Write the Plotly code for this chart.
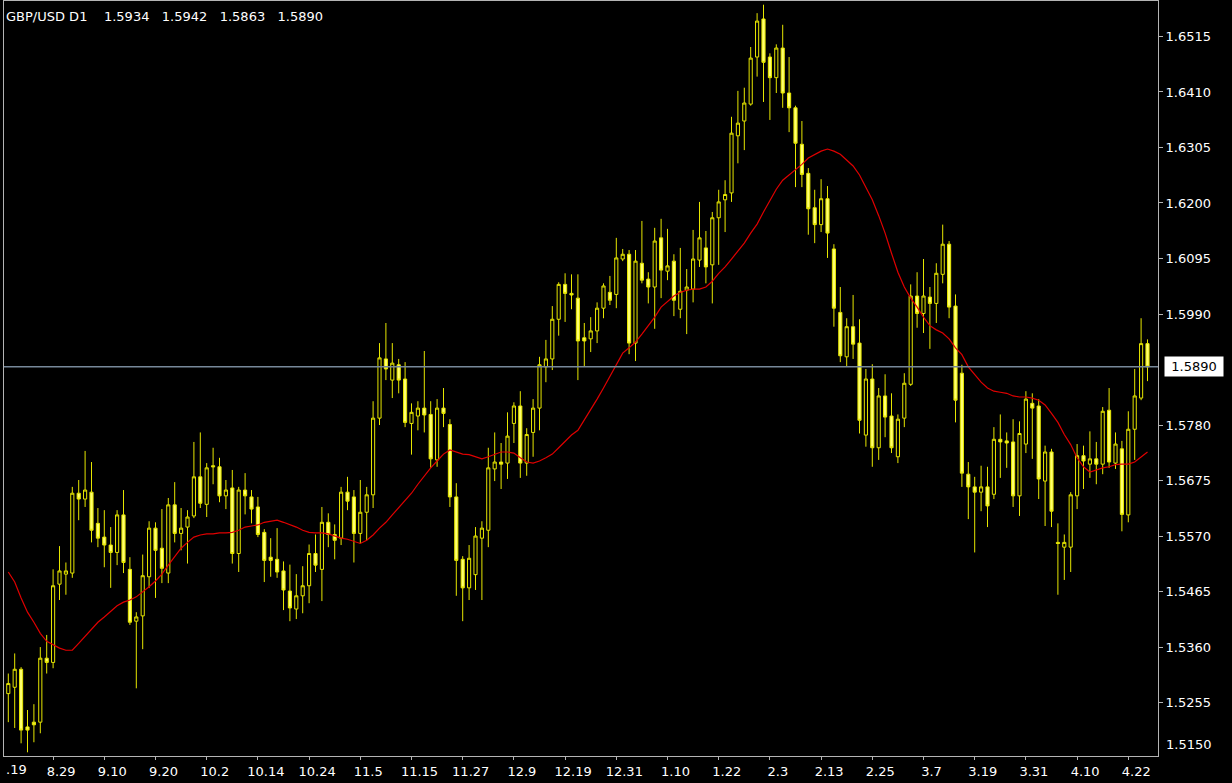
import plotly.graph_objects as go

NB = "\u00a0"
title_parts = ["GBP/USD D1", "1.5934", "1.5942", "1.5863", "1.5890"]

opens = [1.5272,1.5284,1.5318,1.5209,1.5218,1.5218,1.5339,1.5331,1.5479,1.5498,
1.5500,1.5651,1.5640,1.5653,1.5594,1.5568,1.5553,1.5539,1.5610,1.5507,
1.5409,1.5419,1.5493,1.5585,1.5547,1.5500,1.5629,1.5575,1.5587,1.5608,
1.5682,1.5630,1.5703,1.5701,1.5646,1.5661,1.5537,1.5657,1.5644,1.5625,
1.5577,1.5530,1.5526,1.5504,1.5466,1.5432,1.5457,1.5476,1.5537,1.5507,
1.5596,1.5573,1.5566,1.5653,1.5644,1.5575,1.5615,1.5648,1.5793,1.5905,
1.5865,1.5894,1.5867,1.5783,1.5797,1.5812,1.5800,1.5714,1.5812,1.5781,
1.5644,1.5526,1.5472,1.5497,1.5566,1.5581,1.5697,1.5710,1.5708,1.5783,
1.5816,1.5708,1.5766,1.5812,1.5890,1.5905,1.5980,1.6046,1.6029,1.6020,
1.5945,1.5943,1.5958,1.6001,1.6031,1.6027,1.6094,1.6103,1.5935,1.6086,
1.6056,1.6041,1.6134,1.6071,1.6090,1.5999,1.6035,1.6037,1.6092,1.6115,
1.6083,1.6172,1.6206,1.6219,1.6327,1.6355,1.6387,1.6476,1.6548,1.6476,
1.6437,1.6493,1.6408,1.6380,1.6311,1.6256,1.6191,1.6159,1.6208,1.6113,
1.5993,1.5909,1.5966,1.5935,1.5761,1.5867,1.5737,1.5835,1.5797,1.5720,
1.5793,1.5857,1.6024,1.5991,1.6022,1.6010,1.6065,1.6122,1.6005,1.5878,
1.5687,1.5663,1.5653,1.5663,1.5649,1.5753,1.5750,1.5748,1.5646,1.5744,
1.5821,1.5816,1.5674,1.5729,1.5558,1.5549,1.5549,1.5646,1.5722,1.5706,
1.5716,1.5706,1.5808,1.5708,1.5735,1.5610,1.5772,1.5831,1.5934]

highs = [1.5310,1.5348,1.5322,1.5241,1.5252,1.5360,1.5383,1.5507,1.5551,1.5520,
1.5663,1.5676,1.5731,1.5710,1.5623,1.5619,1.5587,1.5619,1.5657,1.5530,
1.5426,1.5535,1.5598,1.5596,1.5621,1.5642,1.5672,1.5623,1.5619,1.5748,
1.5766,1.5708,1.5737,1.5718,1.5676,1.5695,1.5663,1.5689,1.5657,1.5644,
1.5583,1.5566,1.5585,1.5522,1.5516,1.5498,1.5513,1.5554,1.5573,1.5625,
1.5613,1.5592,1.5663,1.5682,1.5657,1.5676,1.5663,1.5825,1.5935,1.5973,
1.5935,1.5905,1.5899,1.5821,1.5825,1.5920,1.5825,1.5829,1.5850,1.5791,
1.5670,1.5532,1.5553,1.5587,1.5598,1.5737,1.5766,1.5746,1.5804,1.5823,
1.5844,1.5774,1.5829,1.5909,1.5941,1.6005,1.6050,1.6067,1.6065,1.6065,
1.5973,1.5984,1.6012,1.6048,1.6062,1.6134,1.6113,1.6111,1.6111,1.6166,
1.6069,1.6153,1.6170,1.6151,1.6103,1.6115,1.6075,1.6149,1.6202,1.6147,
1.6183,1.6225,1.6243,1.6363,1.6412,1.6418,1.6495,1.6559,1.6575,1.6483,
1.6500,1.6537,1.6476,1.6384,1.6355,1.6266,1.6225,1.6245,1.6232,1.6122,
1.6041,1.5982,1.6026,1.5980,1.5886,1.5895,1.5850,1.5876,1.5840,1.5800,
1.5878,1.6046,1.6069,1.6094,1.6041,1.6086,1.6159,1.6128,1.6027,1.5894,
1.5710,1.5682,1.5703,1.5701,1.5776,1.5800,1.5766,1.5791,1.5787,1.5844,
1.5840,1.5829,1.5741,1.5735,1.5594,1.5573,1.5653,1.5744,1.5741,1.5768,
1.5748,1.5814,1.5850,1.5766,1.5750,1.5806,1.5886,1.5982,1.5942]

lows = [1.5218,1.5207,1.5178,1.5161,1.5180,1.5197,1.5310,1.5320,1.5449,1.5459,
1.5491,1.5600,1.5625,1.5558,1.5549,1.5511,1.5472,1.5515,1.5500,1.5402,
1.5282,1.5356,1.5472,1.5453,1.5481,1.5481,1.5558,1.5543,1.5518,1.5604,
1.5623,1.5606,1.5668,1.5634,1.5621,1.5518,1.5502,1.5611,1.5594,1.5568,
1.5483,1.5493,1.5491,1.5430,1.5409,1.5413,1.5424,1.5443,1.5502,1.5447,
1.5549,1.5526,1.5553,1.5619,1.5520,1.5556,1.5562,1.5623,1.5780,1.5865,
1.5831,1.5840,1.5776,1.5724,1.5770,1.5766,1.5699,1.5701,1.5776,1.5625,
1.5457,1.5409,1.5449,1.5468,1.5449,1.5549,1.5674,1.5659,1.5678,1.5746,
1.5680,1.5684,1.5720,1.5770,1.5861,1.5884,1.5949,1.5975,1.5999,1.5865,
1.5890,1.5918,1.5935,1.5982,1.6007,1.6001,1.6090,1.5914,1.5901,1.6048,
1.6010,1.5962,1.6020,1.6054,1.5986,1.5982,1.5952,1.6012,1.6079,1.6048,
1.6010,1.6083,1.6145,1.6202,1.6275,1.6300,1.6384,1.6439,1.6391,1.6357,
1.6408,1.6380,1.6334,1.6230,1.6230,1.6140,1.6124,1.6145,1.6096,1.5966,
1.5899,1.5890,1.5905,1.5764,1.5739,1.5701,1.5714,1.5757,1.5727,1.5708,
1.5776,1.5854,1.5964,1.5954,1.5924,1.5973,1.6048,1.5982,1.5785,1.5663,
1.5602,1.5539,1.5617,1.5587,1.5640,1.5680,1.5699,1.5625,1.5608,1.5727,
1.5716,1.5640,1.5589,1.5587,1.5459,1.5487,1.5502,1.5621,1.5659,1.5680,
1.5668,1.5687,1.5699,1.5697,1.5579,1.5596,1.5714,1.5827,1.5863]

closes = [1.5291,1.5318,1.5203,1.5203,1.5213,1.5339,1.5331,1.5476,1.5504,1.5504,
1.5651,1.5640,1.5657,1.5581,1.5566,1.5553,1.5539,1.5610,1.5520,1.5407,
1.5417,1.5495,1.5585,1.5543,1.5509,1.5629,1.5575,1.5585,1.5606,1.5682,
1.5632,1.5699,1.5701,1.5646,1.5657,1.5537,1.5657,1.5646,1.5621,1.5573,
1.5524,1.5524,1.5502,1.5468,1.5434,1.5457,1.5476,1.5537,1.5515,1.5596,
1.5573,1.5562,1.5653,1.5636,1.5575,1.5615,1.5648,1.5793,1.5907,1.5886,
1.5897,1.5865,1.5785,1.5804,1.5812,1.5799,1.5716,1.5812,1.5802,1.5644,
1.5524,1.5472,1.5528,1.5570,1.5585,1.5699,1.5710,1.5706,1.5759,1.5816,
1.5708,1.5762,1.5812,1.5894,1.5905,1.5980,1.6046,1.6029,1.6026,1.5939,
1.5939,1.5958,1.6001,1.6043,1.6016,1.6096,1.6103,1.5935,1.6090,1.6054,
1.6041,1.6128,1.6073,1.6081,1.6016,1.6033,1.6041,1.6094,1.6134,1.6079,
1.6172,1.6202,1.6216,1.6332,1.6351,1.6389,1.6474,1.6544,1.6466,1.6437,
1.6493,1.6408,1.6380,1.6313,1.6254,1.6189,1.6159,1.6208,1.6143,1.6001,
1.5911,1.5966,1.5933,1.5789,1.5867,1.5737,1.5835,1.5795,1.5737,1.5791,
1.5859,1.6024,1.5991,1.6024,1.6010,1.6067,1.6122,1.6003,1.5827,1.5689,
1.5663,1.5653,1.5663,1.5627,1.5753,1.5748,1.5746,1.5646,1.5764,1.5829,
1.5812,1.5678,1.5729,1.5617,1.5556,1.5558,1.5648,1.5722,1.5712,1.5716,
1.5706,1.5806,1.5710,1.5744,1.5611,1.5772,1.5835,1.5934,1.5890]

moving_avg = [1.5502,1.5483,1.5453,1.5426,1.5407,1.5386,1.5371,1.5364,1.5358,1.5354,
1.5354,1.5367,1.5381,1.5394,1.5407,1.5417,1.5428,1.5438,1.5445,1.5449,
1.5455,1.5464,1.5474,1.5485,1.5498,1.5515,1.5532,1.5547,1.5558,1.5568,
1.5572,1.5574,1.5574,1.5576,1.5576,1.5577,1.5581,1.5587,1.5589,1.5591,
1.5596,1.5598,1.5600,1.5596,1.5592,1.5587,1.5581,1.5577,1.5576,1.5576,
1.5574,1.5570,1.5566,1.5564,1.5560,1.5556,1.5562,1.5572,1.5585,1.5596,
1.5610,1.5623,1.5636,1.5651,1.5668,1.5684,1.5699,1.5712,1.5725,1.5733,
1.5729,1.5725,1.5724,1.5720,1.5716,1.5720,1.5725,1.5729,1.5729,1.5727,
1.5718,1.5710,1.5708,1.5712,1.5718,1.5725,1.5737,1.5750,1.5761,1.5770,
1.5789,1.5808,1.5829,1.5850,1.5873,1.5895,1.5916,1.5926,1.5937,1.5952,
1.5968,1.5984,1.6003,1.6014,1.6024,1.6031,1.6035,1.6037,1.6037,1.6041,
1.6052,1.6067,1.6079,1.6094,1.6109,1.6124,1.6143,1.6160,1.6183,1.6206,
1.6226,1.6243,1.6253,1.6264,1.6273,1.6285,1.6292,1.6298,1.6302,1.6298,
1.6292,1.6281,1.6270,1.6253,1.6230,1.6206,1.6176,1.6143,1.6105,1.6069,
1.6041,1.6020,1.6003,1.5984,1.5968,1.5960,1.5954,1.5943,1.5926,1.5913,
1.5890,1.5875,1.5861,1.5850,1.5844,1.5842,1.5840,1.5835,1.5833,1.5833,
1.5831,1.5827,1.5818,1.5802,1.5785,1.5762,1.5743,1.5718,1.5701,1.5691,
1.5695,1.5699,1.5701,1.5705,1.5706,1.5706,1.5710,1.5720,1.5729]

date_labels = ["8.19", "8.29", "9.10", "9.20", "10.2", "10.14", "10.24", "11.5",
               "11.15", "11.27", "12.9", "12.19", "12.31", "1.10", "1.22", "2.3",
               "2.13", "2.25", "3.7", "3.19", "3.31", "4.10", "4.22"]
date_label_bars = [-1 + 8 * k for k in range(len(date_labels))]

price_ticks = [1.5150, 1.5255, 1.5360, 1.5465, 1.5570, 1.5675, 1.5780,
               1.5990, 1.6095, 1.6200, 1.6305, 1.6410, 1.6515]
last_price = 1.5890

bars = list(range(len(closes)))

YEL = "#e6e600"
AXIS = "#b4b4b4"
FONT = "DejaVu Sans"
FS = 13

fig = go.Figure()
fig.add_trace(go.Candlestick(
    x=bars, open=opens, high=highs, low=lows, close=closes,
    increasing=dict(line=dict(color=YEL, width=1), fillcolor="black"),
    decreasing=dict(line=dict(color=YEL, width=1), fillcolor="#ffff70"),
    whiskerwidth=0, hoverinfo="skip", showlegend=False,
))
fig.add_trace(go.Scatter(
    x=bars, y=moving_avg, mode="lines",
    line=dict(color="#e00000", width=1.2), hoverinfo="skip", showlegend=False,
))

fig.add_shape(type="line", xref="paper", x0=0, x1=1, yref="y",
              y0=last_price, y1=last_price, line=dict(color="#778899", width=1.5))

shown_ticks = [t for t in price_ticks if t > 1.5154]
fig.update_layout(
    width=1232, height=783,
    margin=dict(l=4, r=74, t=1, b=27),
    paper_bgcolor="black", plot_bgcolor="black",
    showlegend=False,
    font=dict(family=FONT, size=FS, color="white"),
    xaxis=dict(
        range=[-0.672, 179.64], showgrid=False, zeroline=False,
        tickvals=date_label_bars[1:], ticktext=date_labels[1:],
        ticks="outside", ticklen=3, tickcolor=AXIS,
        showline=True, linecolor=AXIS, mirror=True,
        ticklabelshift=8, ticklabelstandoff=0,
        tickfont=dict(family=FONT, size=FS, color="white"),
        rangeslider=dict(visible=False),
    ),
    yaxis=dict(
        side="right", range=[1.5154, 1.6582], showgrid=False, zeroline=False,
        tickvals=shown_ticks, ticktext=[f"{t:.4f}" for t in shown_ticks],
        ticks="outside", ticklen=4, tickcolor=AXIS,
        showline=True, linecolor=AXIS, mirror=True,
        tickfont=dict(family=FONT, size=FS, color="white"),
    ),
)

title_text = title_parts[0] + NB * 4 + (NB * 3).join(title_parts[1:])
fig.add_annotation(xref="paper", yref="paper", x=0, y=1, xanchor="left", yanchor="top",
                   xshift=0, yshift=-6, text=title_text, showarrow=False,
                   font=dict(family=FONT, size=FS, color="white"))
fig.add_annotation(xref="paper", yref="y", x=1, y=last_price, xanchor="left",
                   xshift=6, text=f"{last_price:.4f}", showarrow=False,
                   bgcolor="white", borderpad=2, width=54, align="center",
                   font=dict(family=FONT, size=FS, color="black"))
fig.add_annotation(xref="paper", yref="paper", x=1, y=0.0146, xanchor="left",
                   yanchor="middle", xshift=6, text=f"{price_ticks[0]:.4f}",
                   showarrow=False, font=dict(family=FONT, size=FS, color="white"))
fig.add_annotation(xref="paper", yref="paper", x=0, y=0, xanchor="left", yanchor="top",
                   xshift=0, yshift=-4, text=date_labels[0][1:], showarrow=False,
                   font=dict(family=FONT, size=FS, color="white"))

fig.write_html(
    "out.html",
    config={"displayModeBar": False},
    post_script="document.body.style.margin='0';document.body.style.background='black';",
)
